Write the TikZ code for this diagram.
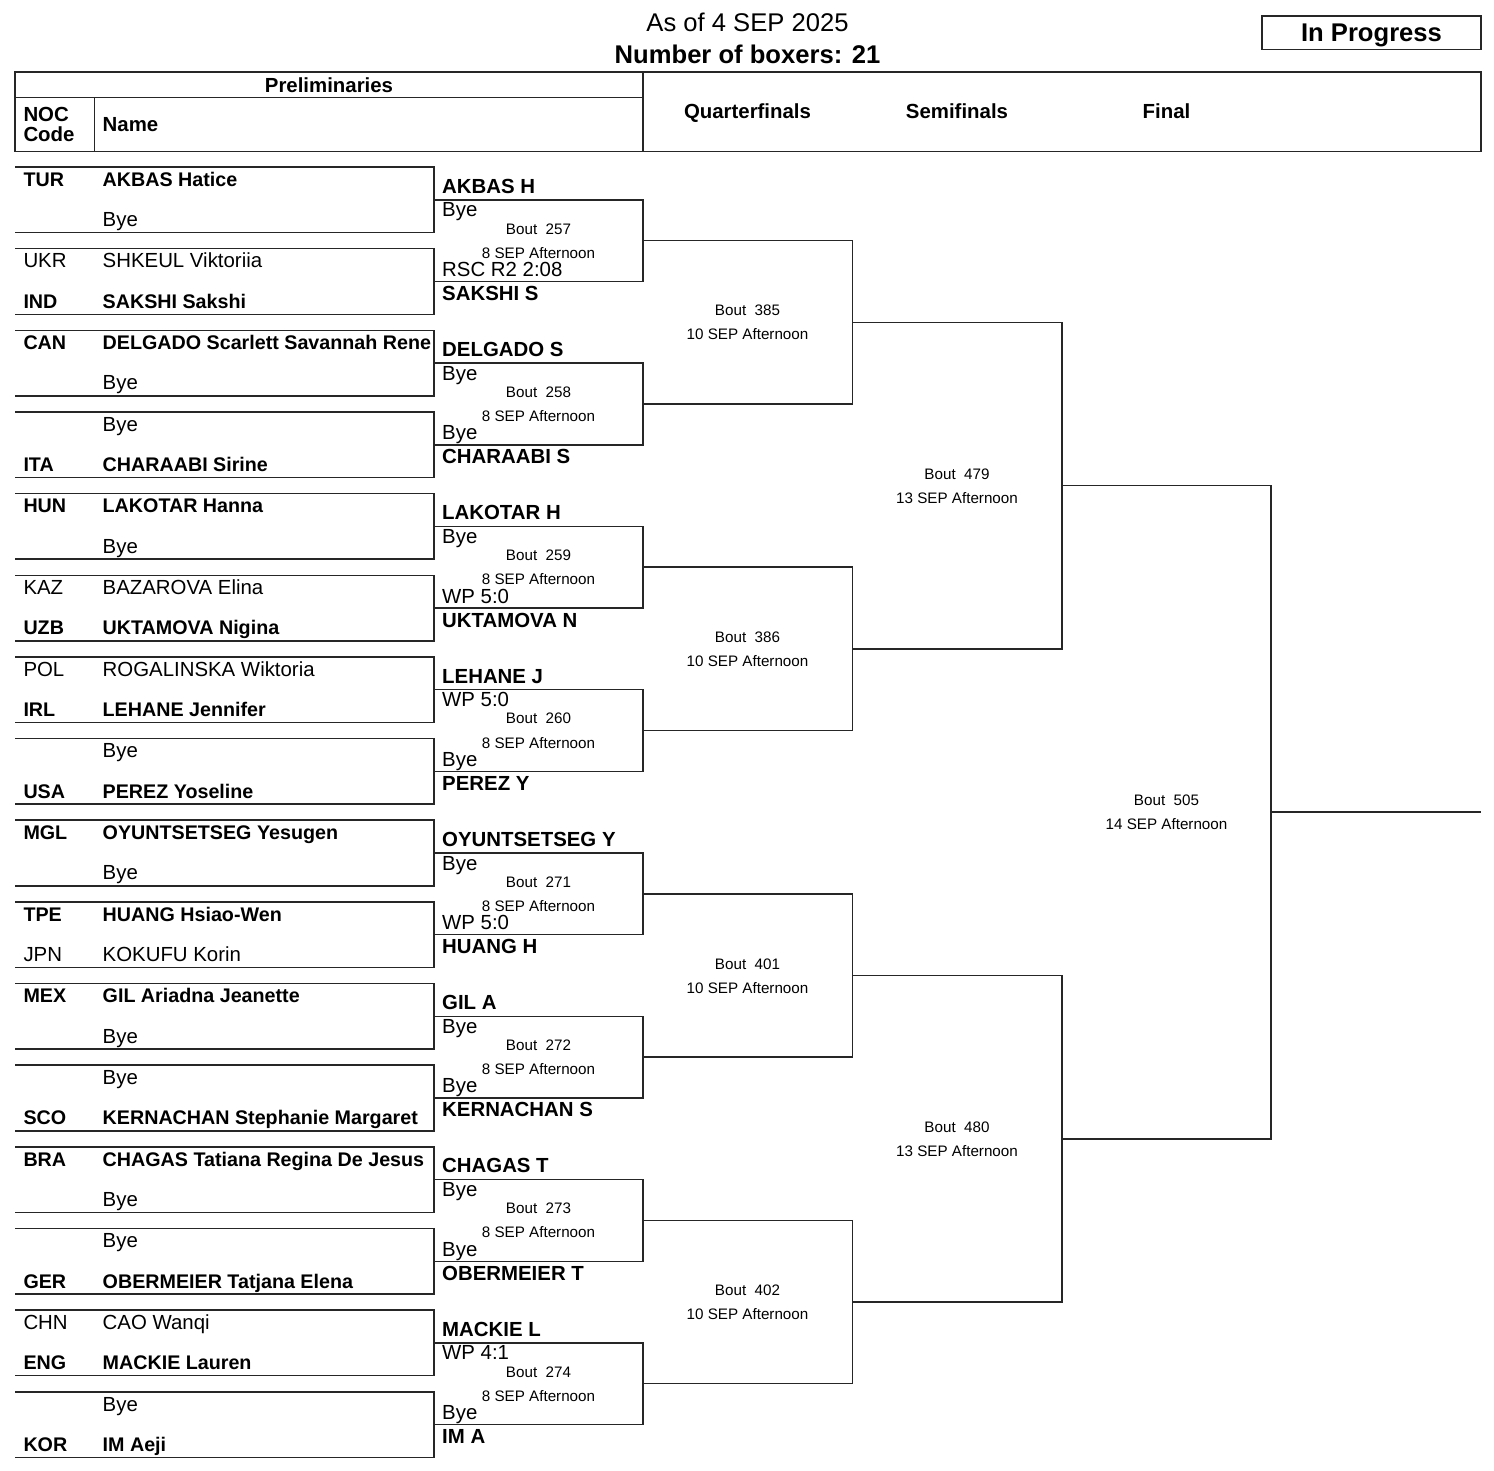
\documentclass[tikz,border=0pt]{standalone}
\usepackage{fontspec}
\setmainfont{Liberation Sans}
\usetikzlibrary{calc}

\newcommand\winbf{\fontsize{19.7}{24}\selectfont\bfseries}

\tikzset{
  bracket/.style={draw=black!85, line width=1.5pt},
  entry/.style={inner sep=0pt, anchor=base west, font=\fontsize{20.4}{24}\selectfont},
  entrybf/.style={entry, font=\fontsize{20.4}{24}\selectfont\bfseries},
  headbf/.style={inner sep=0pt, anchor=base, font=\fontsize{20.4}{24}\selectfont\bfseries},
  boutinfo/.style={inner sep=0pt, anchor=base, font=\fontsize{15.2}{18}\selectfont},
  titletext/.style={inner sep=0pt, anchor=base, font=\fontsize{25.6}{30}\selectfont},
  titlebf/.style={titletext, font=\fontsize{25.6}{30}\selectfont\bfseries},
}

\begin{document}
\begin{tikzpicture}[x=1pt, y=-1pt]
	\useasboundingbox (0,0) rectangle (1494,1470);
	% title and status
	\node[titletext] (asof) at (747.5,31.7) {As of 4 SEP 2025};
	\node[titlebf] (count) at (747.5,63.3) {Number of boxers: 21};
	\draw[bracket] (1262,16) rectangle (1481,49.3);
	\node[titlebf] (status) at (1371.5,41.7) {In Progress};
	% header table
	\draw[bracket] (15,72) rectangle (1481,151.5);
	\draw[bracket] (15,97.3) -- (643,97.3);
	\draw[bracket] (643,72) -- (643,151.5);
	\draw[bracket] (94.7,97.3) -- (94.7,151.5);
	\node[headbf] (prelim) at (329,92.3) {Preliminaries};
	\node[headbf, anchor=base west] (noc) at (23.3,121) {NOC};
	\node[headbf, anchor=base west] (code) at (23.3,141.7) {Code};
	\node[headbf, anchor=base west] (name) at (102.5,131.7) {Name};
	\node[headbf] (quarter) at (747.5,118.3) {Quarterfinals};
	\node[headbf] (semi) at (957,118.3) {Semifinals};
	\node[headbf] (final) at (1166.5,118.3) {Final};
	% preliminaries
	\foreach \i/\ca/\na/\fa/\cb/\nb/\fb in {
		0/TUR/AKBAS Hatice/\winbf/{}/Bye/\mdseries,
		1/UKR/SHKEUL Viktoriia/\mdseries/IND/SAKSHI Sakshi/\winbf,
		2/CAN/DELGADO Scarlett Savannah Rene/\winbf/{}/Bye/\mdseries,
		3/{}/Bye/\mdseries/ITA/CHARAABI Sirine/\winbf,
		4/HUN/LAKOTAR Hanna/\winbf/{}/Bye/\mdseries,
		5/KAZ/BAZAROVA Elina/\mdseries/UZB/UKTAMOVA Nigina/\winbf,
		6/POL/ROGALINSKA Wiktoria/\mdseries/IRL/LEHANE Jennifer/\winbf,
		7/{}/Bye/\mdseries/USA/PEREZ Yoseline/\winbf,
		8/MGL/OYUNTSETSEG Yesugen/\winbf/{}/Bye/\mdseries,
		9/TPE/HUANG Hsiao-Wen/\winbf/JPN/KOKUFU Korin/\mdseries,
		10/MEX/GIL Ariadna Jeanette/\winbf/{}/Bye/\mdseries,
		11/{}/Bye/\mdseries/SCO/KERNACHAN Stephanie Margaret/\winbf,
		12/BRA/CHAGAS Tatiana Regina De Jesus/\winbf/{}/Bye/\mdseries,
		13/{}/Bye/\mdseries/GER/OBERMEIER Tatjana Elena/\winbf,
		14/CHN/CAO Wanqi/\mdseries/ENG/MACKIE Lauren/\winbf,
		15/{}/Bye/\mdseries/KOR/IM Aeji/\winbf}{
		\pgfmathsetmacro\yt{167+81.65*\i}
		\coordinate (prea\i) at (15,\yt);
		\coordinate (preb\i) at (15,{\yt+65.6});
		\coordinate (prem\i) at (434,{\yt+32.8});
		\draw[bracket] (prea\i) -| (prem\i) |- (preb\i);
		\node[entry] (noca\i) at (23.3,{\yt+19.3}) {\fa\ca};
		\node[entry] (nama\i) at (102.5,{\yt+19.3}) {\fa\na};
		\node[entry] (nocb\i) at (23.3,{\yt+59.6}) {\fb\cb};
		\node[entry] (namb\i) at (102.5,{\yt+59.6}) {\fb\nb};
	}
	% first round
	\foreach \j/\bout/\wa/\ra/\rb/\wb in {
		0/257/AKBAS H/Bye/RSC R2 2:08/SAKSHI S,
		1/258/DELGADO S/Bye/Bye/CHARAABI S,
		2/259/LAKOTAR H/Bye/WP 5:0/UKTAMOVA N,
		3/260/LEHANE J/WP 5:0/Bye/PEREZ Y,
		4/271/OYUNTSETSEG Y/Bye/WP 5:0/HUANG H,
		5/272/GIL A/Bye/Bye/KERNACHAN S,
		6/273/CHAGAS T/Bye/Bye/OBERMEIER T,
		7/274/MACKIE L/WP 4:1/Bye/IM A}{
		\pgfmathtruncatemacro\ka{2*\j}
		\pgfmathtruncatemacro\kb{2*\j+1}
		\coordinate (rim\j) at ($(prem\ka)!0.5!(prem\kb)+(209,0)$);
		\draw[bracket] (prem\ka) -| (rim\j) |- (prem\kb);
		\node[entrybf] (riwa\j) at ($(prem\ka)+(8,-6.7)$) {\wa};
		\node[entry] (rira\j) at ($(prem\ka)+(8,17)$) {\ra};
		\node[entry] (rirb\j) at ($(prem\kb)+(8,-5)$) {\rb};
		\node[entrybf] (riwb\j) at ($(prem\kb)+(8,19)$) {\wb};
		\node[boutinfo] (ribout\j) at ($(prem\ka)!0.5!(prem\kb)+(104.5,-6.6)$) {Bout~~\bout};
		\node[boutinfo] (ridate\j) at ($(prem\ka)!0.5!(prem\kb)+(104.5,17.5)$) {8 SEP Afternoon};
	}
	% quarterfinals
	\foreach \k/\bout in {0/385,1/386,2/401,3/402}{
		\pgfmathtruncatemacro\ja{2*\k}
		\pgfmathtruncatemacro\jb{2*\k+1}
		\coordinate (qfm\k) at ($(rim\ja)!0.5!(rim\jb)+(209.5,0)$);
		\draw[bracket] (rim\ja) -| (qfm\k) |- (rim\jb);
		\node[boutinfo] (qfbout\k) at ($(rim\ja)!0.5!(rim\jb)+(104.5,-6.4)$) {Bout~~\bout};
		\node[boutinfo] (qfdate\k) at ($(rim\ja)!0.5!(rim\jb)+(104.5,17.6)$) {10 SEP Afternoon};
	}
	% semifinals
	\foreach \s/\bout in {0/479,1/480}{
		\pgfmathtruncatemacro\qa{2*\s}
		\pgfmathtruncatemacro\qb{2*\s+1}
		\coordinate (sfm\s) at ($(qfm\qa)!0.5!(qfm\qb)+(209.5,0)$);
		\draw[bracket] (qfm\qa) -| (sfm\s) |- (qfm\qb);
		\node[boutinfo] (sfbout\s) at ($(qfm\qa)!0.5!(qfm\qb)+(104.5,-6.4)$) {Bout~~\bout};
		\node[boutinfo] (sfdate\s) at ($(qfm\qa)!0.5!(qfm\qb)+(104.5,17.6)$) {13 SEP Afternoon};
	}
	% final
	\coordinate (fim) at ($(sfm0)!0.5!(sfm1)+(209,0)$);
	\coordinate (champ) at ($(fim)+(210,0)$);
	\draw[bracket] (sfm0) -| (fim) |- (sfm1);
	\draw[bracket] (fim) -- (champ);
	\node[boutinfo] (fibout) at ($(sfm0)!0.5!(sfm1)+(104.5,-6.4)$) {Bout~~505};
	\node[boutinfo] (fidate) at ($(sfm0)!0.5!(sfm1)+(104.5,17.6)$) {14 SEP Afternoon};
\end{tikzpicture}
\end{document}
